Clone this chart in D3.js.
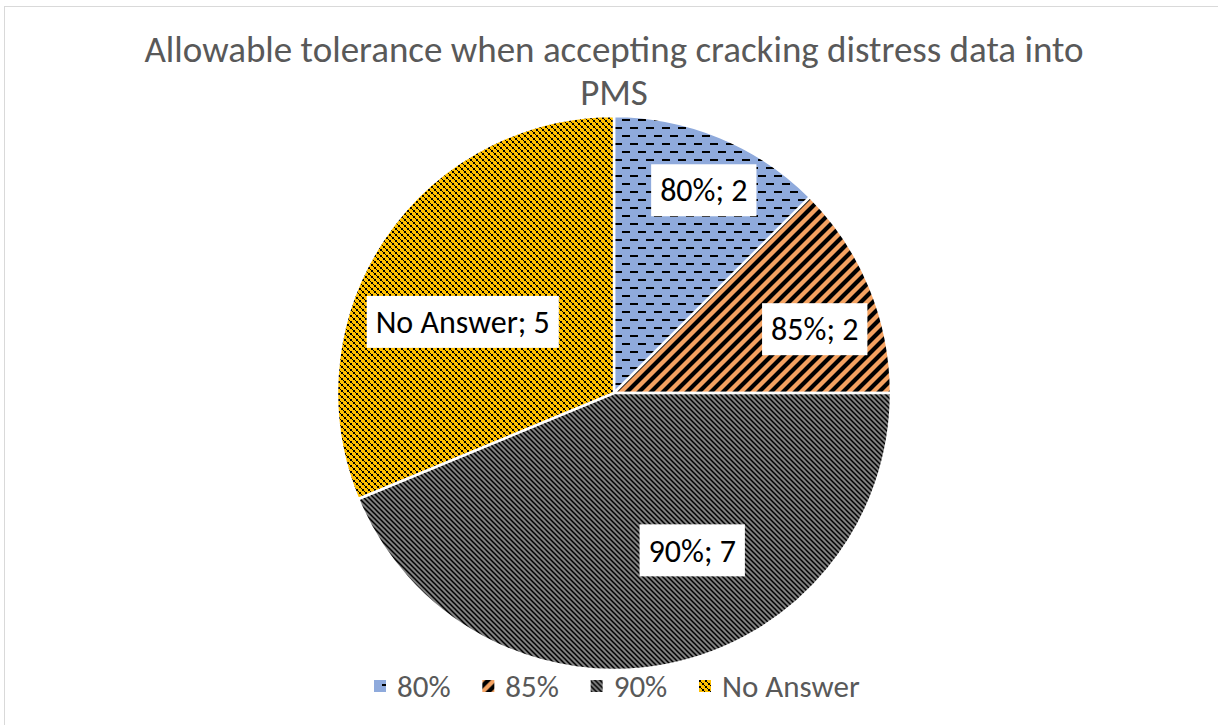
<!DOCTYPE html>
<html><head><meta charset="utf-8">
<script src="https://cdn.jsdelivr.net/npm/d3@7"></script>
<style>body{margin:0;background:#fff}svg{display:block}</style>
</head><body>
<svg id="c" width="1218" height="725"></svg>
<script>
const categories = ["80%", "85%", "90%", "No Answer"];
const values = [2, 2, 7, 5];
const titleLines = ["Allowable tolerance when accepting cracking distress data into", "PMS"];
const labelNudge = [[5, 2], [-4, 21], [35, -60], [33, 52]];

const svg = d3.select("#c");
const cx = 614, cy = 393, r = 277;
const font = "Carlito, Calibri, Lato, sans-serif";

svg.append("rect").attr("x", 4.5).attr("y", 6.5).attr("width", 1220).attr("height", 730)
  .attr("fill", "#fff").attr("stroke", "#d9d9d9").attr("stroke-width", 1);

const defs = svg.append("defs");
// 80% dashes
const p0 = defs.append("pattern").attr("id", "p0").attr("patternUnits", "userSpaceOnUse").attr("width", 16).attr("height", 16);
p0.append("rect").attr("width", 16).attr("height", 16).attr("fill", "#8FAADC");
p0.append("rect").attr("x", 0).attr("y", 6).attr("width", 8).attr("height", 2).attr("fill", "#000");
p0.append("rect").attr("x", 8).attr("y", 14).attr("width", 8).attr("height", 2).attr("fill", "#000");
// 85% wide up diagonal
const p1 = defs.append("pattern").attr("id", "p1").attr("patternUnits", "userSpaceOnUse").attr("width", 12).attr("height", 12);
p1.append("rect").attr("width", 12).attr("height", 12).attr("fill", "#F4A261");
p1.append("path").attr("d", "M-3,3L3,-3M0,12L12,0M9,15L15,9")
  .attr("stroke", "#000").attr("stroke-width", 4.2).attr("fill", "none");
// 90% dark down diagonal
const p2 = defs.append("pattern").attr("id", "p2").attr("patternUnits", "userSpaceOnUse").attr("width", 5).attr("height", 5);
p2.append("rect").attr("width", 5).attr("height", 5).attr("fill", "#808080");
p2.append("path").attr("d", "M-2.5,2.5L2.5,7.5M0,0L5,5M2.5,-2.5L7.5,2.5")
  .attr("stroke", "#000").attr("stroke-width", 1.5).attr("fill", "none");
// No Answer checker
const p3 = defs.append("pattern").attr("id", "p3").attr("patternUnits", "userSpaceOnUse").attr("width", 6).attr("height", 6);
p3.append("rect").attr("width", 6).attr("height", 6).attr("fill", "#FFC000");
p3.append("rect").attr("x", 0).attr("y", 0).attr("width", 2).attr("height", 2).attr("fill", "#000");
p3.append("rect").attr("x", 3).attr("y", 3).attr("width", 2).attr("height", 2).attr("fill", "#000");
p3.append("rect").attr("x", 2).attr("y", 2).attr("width", 1).attr("height", 1).attr("fill", "#000");
p3.append("rect").attr("x", 5).attr("y", 5).attr("width", 1).attr("height", 1).attr("fill", "#000");

const fills = ["url(#p0)", "url(#p1)", "url(#p2)", "url(#p3)"];

// title
svg.append("g").selectAll("text").data(titleLines).join("text")
  .attr("x", cx).attr("y", (d, i) => 62 + i * 43)
  .attr("text-anchor", "middle").attr("font-family", font).attr("font-size", 37)
  .attr("fill", "#595959").text(d => d);

const pie = d3.pie().sort(null).value(d => d)(values);
const arc = d3.arc().innerRadius(0).outerRadius(r);
const labelArc = d3.arc().innerRadius(r * 0.8).outerRadius(r * 0.8);

const g = svg.append("g").attr("transform", `translate(${cx},${cy})`);
g.selectAll("path").data(pie).join("path")
  .attr("d", arc).attr("fill", (d, i) => fills[i])
  .attr("stroke", "#fff").attr("stroke-width", 2.5);

const lg = g.selectAll("g.lab").data(pie).join("g").attr("class", "lab")
  .attr("transform", (d, i) => {
    const c = labelArc.centroid(d);
    return `translate(${c[0] + labelNudge[i][0]},${c[1] + labelNudge[i][1]})`;
  });
lg.append("text").attr("text-anchor", "middle").attr("dy", "0.35em")
  .attr("font-family", font).attr("font-size", 32).attr("fill", "#000")
  .text((d, i) => `${categories[i]}; ${values[i]}`);
lg.each(function () {
  const t = d3.select(this).select("text");
  const b = t.node().getBBox();
  d3.select(this).insert("rect", "text")
    .attr("x", b.x - 9).attr("y", -26).attr("width", b.width + 18).attr("height", 52)
    .attr("fill", "#fff");
});

// legend
const legX = d3.scalePoint().domain(categories).range([374, 699]);
const leg = svg.append("g").selectAll("g").data(categories).join("g")
  .attr("transform", d => `translate(${legX(d)},686)`);
leg.append("rect").attr("x", 0).attr("y", -6).attr("width", 12).attr("height", 12)
  .attr("fill", (d, i) => fills[i]);
leg.append("text").attr("x", 23).attr("y", 0).attr("dy", "0.35em")
  .attr("font-family", font).attr("font-size", 31).attr("fill", "#595959").text(d => d);
</script>
</body></html>
